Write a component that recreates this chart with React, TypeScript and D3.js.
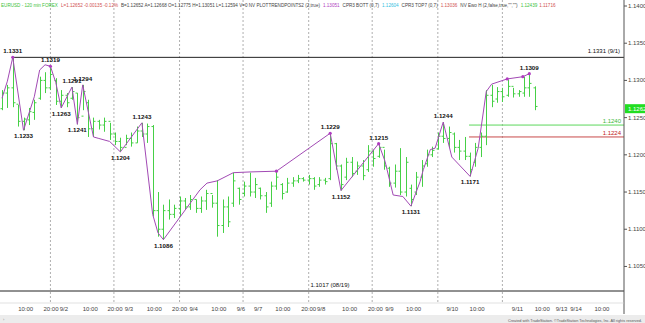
import React from "react";
import * as d3 from "d3";

const highs = [1.1287,1.1294,1.1331,1.1267,1.1250,1.1263,1.1274,1.1305,1.1311,1.1319,1.1303,1.1287,1.1283,1.1291,1.1283,1.1294,1.1274,1.1250,1.1247,1.1250,1.1243,1.1230,1.1223,1.1227,1.1230,1.1238,1.1243,1.1242,1.1240,1.1150,1.1133,1.1140,1.1133,1.1144,1.1142,1.1146,1.1140,1.1144,1.1153,1.1146,1.1166,1.1140,1.1144,1.1176,1.1156,1.1164,1.1176,1.1169,1.1156,1.1150,1.1164,1.1178,1.1162,1.1169,1.1170,1.1173,1.1170,1.1173,1.1170,1.1170,1.1169,1.1229,1.1216,1.1187,1.1196,1.1197,1.1191,1.1193,1.1213,1.1207,1.1215,1.1207,1.1184,1.1187,1.1209,1.1197,1.1160,1.1177,1.1193,1.1207,1.1211,1.1230,1.1244,1.1238,1.1230,1.1220,1.1224,1.1203,1.1216,1.1230,1.1287,1.1294,1.1291,1.1290,1.1301,1.1290,1.1287,1.1305,1.1309,1.1292];
const lows = [1.1260,1.1263,1.1264,1.1238,1.1233,1.1240,1.1247,1.1274,1.1283,1.1287,1.1267,1.1263,1.1264,1.1274,1.1241,1.1260,1.1224,1.1224,1.1234,1.1231,1.1220,1.1213,1.1204,1.1213,1.1211,1.1216,1.1224,1.1216,1.1117,1.1090,1.1086,1.1113,1.1115,1.1117,1.1126,1.1126,1.1122,1.1122,1.1126,1.1129,1.1090,1.1095,1.1103,1.1130,1.1133,1.1144,1.1144,1.1142,1.1140,1.1122,1.1130,1.1153,1.1140,1.1149,1.1157,1.1162,1.1164,1.1160,1.1153,1.1157,1.1160,1.1166,1.1180,1.1152,1.1166,1.1170,1.1173,1.1166,1.1177,1.1184,1.1196,1.1180,1.1157,1.1156,1.1146,1.1144,1.1131,1.1146,1.1157,1.1184,1.1197,1.1207,1.1216,1.1209,1.1203,1.1193,1.1193,1.1171,1.1184,1.1197,1.1213,1.1264,1.1270,1.1271,1.1278,1.1277,1.1278,1.1278,1.1278,1.1260];
const opens = [1.1262,1.1283,1.1290,1.1268,1.1245,1.1247,1.1257,1.1276,1.1300,1.1290,1.1300,1.1272,1.1280,1.1276,1.1283,1.1252,1.1270,1.1235,1.1245,1.1240,1.1245,1.1228,1.1218,1.1210,1.1222,1.1216,1.1232,1.1228,1.1238,1.1125,1.1100,1.1125,1.1120,1.1128,1.1138,1.1130,1.1140,1.1128,1.1138,1.1148,1.1135,1.1105,1.1130,1.1135,1.1155,1.1148,1.1158,1.1150,1.1155,1.1145,1.1135,1.1158,1.1160,1.1150,1.1162,1.1165,1.1168,1.1166,1.1168,1.1160,1.1166,1.1168,1.1215,1.1185,1.1170,1.1190,1.1178,1.1185,1.1180,1.1205,1.1198,1.1210,1.1182,1.1162,1.1178,1.1150,1.1155,1.1150,1.1170,1.1188,1.1200,1.1208,1.1225,1.1222,1.1228,1.1210,1.1205,1.1198,1.1190,1.1210,1.1225,1.1280,1.1275,1.1285,1.1280,1.1292,1.1282,1.1283,1.1290,1.1290];
const closes = [1.1283,1.1290,1.1270,1.1245,1.1248,1.1258,1.1270,1.1300,1.1290,1.1308,1.1272,1.1280,1.1270,1.1285,1.1250,1.1285,1.1235,1.1245,1.1240,1.1245,1.1228,1.1218,1.1210,1.1222,1.1216,1.1232,1.1228,1.1238,1.1125,1.1100,1.1125,1.1120,1.1128,1.1138,1.1130,1.1140,1.1128,1.1138,1.1148,1.1135,1.1105,1.1130,1.1110,1.1165,1.1140,1.1158,1.1150,1.1160,1.1145,1.1130,1.1158,1.1170,1.1148,1.1162,1.1165,1.1168,1.1166,1.1168,1.1158,1.1166,1.1164,1.1215,1.1185,1.1160,1.1190,1.1175,1.1185,1.1172,1.1205,1.1195,1.1210,1.1185,1.1162,1.1178,1.1150,1.1190,1.1140,1.1170,1.1185,1.1200,1.1206,1.1225,1.1222,1.1230,1.1210,1.1205,1.1198,1.1180,1.1210,1.1225,1.1280,1.1272,1.1285,1.1278,1.1292,1.1282,1.1285,1.1290,1.1296,1.1265];

// zigzag trend line (bar index, price)
const zigIdx = [0,1,2,4,6,7,8,9,10,11,13,14,15,17,18,20,22,26,28,29,30,36.8,38.1,40,43,46.1,51,61,63,70,71.2,72.7,74.5,76,77.7,78.3,79.6,80.5,82,83.6,87,88.5,90,91,93.9,96.8,98];
const zigVal = [1.1276,1.1299,1.1331,1.1233,1.1278,1.1314,1.1321,1.1319,1.1297,1.1263,1.1291,1.1241,1.1294,1.1224,1.1222,1.1218,1.1204,1.1243,1.1120,1.1095,1.1086,1.1153,1.1162,1.1165,1.1176,1.1177,1.1178,1.1229,1.1152,1.1215,1.1191,1.1146,1.1144,1.1131,1.1164,1.1180,1.1207,1.1209,1.1244,1.1197,1.1171,1.1209,1.1285,1.1295,1.1302,1.1305,1.1309];
const dotIdx = [2,9,51,61,70,93.9,96.8,98];

// pivot labels
const pivotIdx = [2,4,9,11,13,15,14,22,26,30,61,63,70,76,82,87,98];
const pivotVal = [1.1331,1.1233,1.1319,1.1263,1.1291,1.1294,1.1241,1.1204,1.1243,1.1086,1.1229,1.1152,1.1215,1.1131,1.1244,1.1171,1.1309];
const pivotHigh = [true,false,true,false,true,true,false,false,true,false,true,false,true,false,true,false,true];

const yTicks = [1.14,1.135,1.13,1.125,1.12,1.115,1.11,1.105];
const timeLabels = ["10:00","20:00","9/2","10:00","20:00","9/3","10:00","20:00","9/4","10:00","9/6","9/7","10:00","20:00","9/8","10:00","20:00","9/9","10:00","9/10","10:00","9/11","10:00","9/13","9/14","10:00"];
const timeIdx = [4.4,9.1,11.5,16.4,21,23.6,28.3,33,35.6,40.3,44.4,47.6,52.2,57,59.3,64.6,69.4,72,76.5,83.7,88.3,95.8,100.4,104,106.7,111.5];
const gridIdx = [9,20.8,33,44.8,57,68.8,81,93];

const topLevel = 1.1331, topLevelLabel = "1.1331 (9/1)";
const bottomLevel = 1.1017, bottomLevelLabel = "1.1017 (08/19)";
const greenLevel = 1.1240, redLevel = 1.1224, lastPrice = 1.1262;

const W = 645, H = 323, PR = 624;
const x = d3.scaleLinear().domain([0, 115.6]).range([2, PR]);
const y = d3.scaleLinear().domain([1.1017, 1.14]).range([291, 6]);

export default function App() {
  const barColor = "#46d046";
  const zig = d3.line<number>().x((d, i) => x(zigIdx[i])).y((d) => y(d));
  const f4 = d3.format(".4f");
  return (
    <svg width={W} height={H} style={{ position: "absolute", left: 0, top: 0, background: "#fff" }} fontFamily="Liberation Sans, Arial, sans-serif">
      <rect x={0} y={0} width={W} height={H} fill="#fff" />
      {gridIdx.map((g, i) => (
        <line key={"g" + i} x1={x(g)} x2={x(g)} y1={0} y2={303} stroke="#9a9a9a" strokeWidth={0.8} strokeDasharray="2,2" />
      ))}
      {/* horizontal levels */}
      <line x1={x(2)} x2={PR} y1={y(topLevel)} y2={y(topLevel)} stroke="#222" strokeWidth={1} />
      <text x={620} y={y(topLevel) - 4} fontSize={6} textAnchor="end" fill="#111">{topLevelLabel}</text>
      <line x1={0} x2={PR} y1={y(bottomLevel)} y2={y(bottomLevel)} stroke="#222" strokeWidth={1} />
      <text x={330} y={y(bottomLevel) - 4} fontSize={6} textAnchor="middle" fill="#111">{bottomLevelLabel}</text>
      <line x1={x(86.8)} x2={PR} y1={y(greenLevel)} y2={y(greenLevel)} stroke="#5cd85c" strokeWidth={1} />
      <text x={621} y={y(greenLevel) - 2} fontSize={6} textAnchor="end" fill="#3cb83c">{f4(greenLevel)}</text>
      <line x1={x(86.8)} x2={PR} y1={y(redLevel)} y2={y(redLevel)} stroke="#c84a4a" strokeWidth={1} />
      <text x={621} y={y(redLevel) - 2} fontSize={6} textAnchor="end" fill="#c02020">{f4(redLevel)}</text>

      {/* bars */}
      {highs.map((h, i) => {
        const cx = Math.round(x(i)) + 0.5;
        return (
          <g key={"b" + i} stroke={barColor} strokeWidth={1}>
            <line x1={cx} x2={cx} y1={y(h)} y2={y(lows[i])} />
            <line x1={cx - 2} x2={cx} y1={y(opens[i])} y2={y(opens[i])} />
            <line x1={cx} x2={cx + 2} y1={y(closes[i])} y2={y(closes[i])} />
          </g>
        );
      })}

      {/* zigzag */}
      <path d={zig(zigVal) || ""} fill="none" stroke="#a24ab4" strokeWidth={1} />
      {dotIdx.map((d, i) => {
        const k = zigIdx.indexOf(d);
        return <circle key={"d" + i} cx={x(d)} cy={y(zigVal[k])} r={1.6} fill="#b03cc0" />;
      })}
      {pivotIdx.map((p, i) => (
        <text key={"p" + i} x={x(p)} y={pivotHigh[i] ? y(pivotVal[i]) - 4 : y(pivotVal[i]) + 8} fontSize={6.2} fontWeight="bold" textAnchor="middle" fill="#111">{f4(pivotVal[i])}</text>
      ))}

      {/* right axis */}
      <line x1={PR} x2={PR} y1={0} y2={314} stroke="#555" strokeWidth={1} />
      {yTicks.map((t, i) => (
        <g key={"t" + i}>
          <line x1={PR} x2={PR + 3} y1={y(t)} y2={y(t)} stroke="#555" />
          <text x={PR + 4} y={y(t) + 2} fontSize={6} fill="#444">{f4(t)}</text>
        </g>
      ))}
      <rect x={PR + 1} y={y(lastPrice) - 4.5} width={W - PR - 1} height={9} fill="#22dd22" />
      <text x={PR + 4} y={y(lastPrice) + 2} fontSize={6} fill="#fff">{f4(lastPrice)}</text>

      {/* time axis */}
      <line x1={0} x2={PR} y1={303} y2={303} stroke="#ccc" strokeWidth={0.6} />
      {timeLabels.map((l, i) => (
        <text key={"x" + i} x={x(timeIdx[i])} y={311} fontSize={6} textAnchor="middle" fill="#444">{l}</text>
      ))}
      <rect x={0} y={315} width={W} height={8} fill="#ececec" />
      <text x={3} y={321} fontSize={4} fill="#888">›</text>
      <text x={642} y={321.5} fontSize={3.8} textAnchor="end" fill="#555">Created with TradeStation. ©TradeStation Technologies, Inc. All rights reserved.</text>

      {/* header */}
      <text x={1} y={7} fontSize={4.6} fill="#444">
        <tspan fill="#3cbf3c">EURUSD - 120 min FOREX</tspan>
        <tspan fill="#d05050" dx={3}>L=1.12652 -0.00135 -0.12%</tspan>
        <tspan dx={3}>B=1.12652 A=1.12668 O=1.12775 H=1.13051 L=1.12594 V=0 NV PLOTTRENDPOINTS2 (2,true)</tspan>
        <tspan fill="#b03cc0" dx={3}>1.13051</tspan>
        <tspan dx={3}>CPR3 BOTT (0,7)</tspan>
        <tspan fill="#30c0e0" dx={3}>1.12604</tspan>
        <tspan dx={3}>CPR3 TOP7 (0,7)</tspan>
        <tspan fill="#d05050" dx={3}>1.13036</tspan>
        <tspan dx={3}>NV Ewo H (2,false,true,"","")</tspan>
        <tspan fill="#3cbf3c" dx={3}>1.12439</tspan>
        <tspan fill="#d05050" dx={2}>1.11716</tspan>
      </text>
    </svg>
  );
}
